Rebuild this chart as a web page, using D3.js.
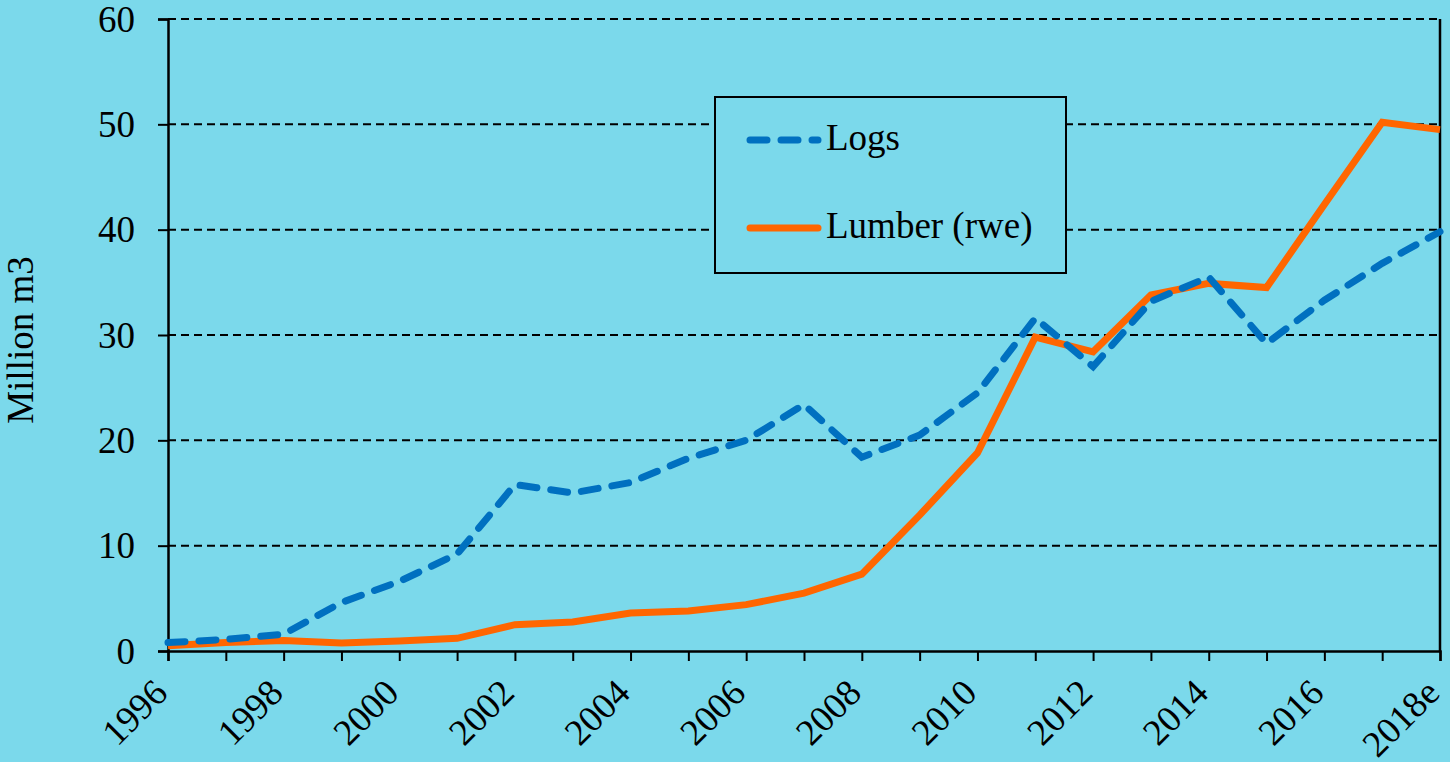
<!DOCTYPE html>
<html><head><meta charset="utf-8">
<script src="https://cdn.jsdelivr.net/npm/d3@7"></script>
<style>html,body{margin:0;padding:0;background:#7BD9EB;}svg{display:block;}</style>
</head><body>
<script>
const years = ["1996","1997","1998","1999","2000","2001","2002","2003","2004","2005","2006","2007","2008","2009","2010","2011","2012","2013","2014","2015","2016","2017","2018e"];
const logs = [0.8,1.1,1.6,4.6,6.6,9.2,15.8,15.0,16.0,18.3,20.0,23.4,18.4,20.5,24.5,31.6,27.0,33.2,35.5,29.2,33.3,36.8,39.8];
const lumber = [0.5,0.8,1.0,0.75,0.95,1.2,2.5,2.75,3.6,3.8,4.4,5.5,7.3,12.9,18.8,29.8,28.4,33.8,34.9,34.5,42.4,50.2,49.5];
const yTicks = [0,10,20,30,40,50,60];
const seriesNames = ["Logs","Lumber (rwe)"];

const W=1450,H=762;
const m={l:168,r:10,t:19,b:111};
const svg=d3.select("body").append("svg").attr("width",W).attr("height",H);
svg.append("rect").attr("width",W).attr("height",H).attr("fill","#7BD9EB");
const x=d3.scalePoint().domain(years).range([m.l,W-m.r]);
const y=d3.scaleLinear().domain([0,60]).range([H-m.b,m.t]);
const font="'Liberation Serif','Times New Roman',serif";
const fs=37;

// gridlines
svg.append("g").selectAll("line").data(yTicks.filter(d=>d>0)).join("line")
  .attr("x1",m.l).attr("x2",W-m.r).attr("y1",d=>y(d)).attr("y2",d=>y(d))
  .attr("stroke","#000").attr("stroke-width",2).attr("stroke-dasharray","8,5");
// right border
svg.append("line").attr("x1",W-m.r).attr("x2",W-m.r).attr("y1",m.t).attr("y2",H-m.b).attr("stroke","#000").attr("stroke-width",2.5);

// y axis
const ya=svg.append("g").attr("transform",`translate(${m.l},0)`)
  .call(d3.axisLeft(y).tickValues(yTicks).tickSize(10).tickPadding(23).tickFormat(d3.format("d")));
ya.select(".domain").attr("stroke","#000").attr("stroke-width",2.5);
ya.selectAll(".tick line").attr("stroke","#000").attr("stroke-width",2);
ya.selectAll("text").attr("font-family",font).attr("font-size",fs).attr("fill","#000").attr("dy","0.33em");

// x axis
const xa=svg.append("g").attr("transform",`translate(0,${H-m.b})`)
  .call(d3.axisBottom(x).tickSize(10).tickFormat((d,i)=> i%2===0?d:""));
xa.select(".domain").attr("stroke","#000").attr("stroke-width",2.5);
xa.selectAll(".tick line").attr("stroke","#000").attr("stroke-width",2);
xa.selectAll("text").attr("font-family",font).attr("font-size",fs).attr("fill","#000")
  .attr("text-anchor","end").attr("dy",0).attr("y",0)
  .attr("transform","translate(1,44) rotate(-45)");

// y title
svg.append("text").attr("transform","translate(33,340) rotate(-90)")
  .attr("text-anchor","middle").attr("font-family",font).attr("font-size",fs).text("Million m3");

const line=d3.line().x((d,i)=>x(years[i])).y(d=>y(d));
svg.append("path").datum(lumber).attr("d",line).attr("fill","none")
  .attr("stroke","#FF6600").attr("stroke-width",7).attr("stroke-linejoin","miter");
svg.append("path").datum(logs).attr("d",line).attr("fill","none")
  .attr("stroke","#0070C0").attr("stroke-width",7).attr("stroke-dasharray","17,14").attr("stroke-linecap","round");

// legend
const lg=svg.append("g");
lg.append("rect").attr("x",715).attr("y",97).attr("width",351).attr("height",176)
  .attr("fill","#7BD9EB").attr("stroke","#000").attr("stroke-width",2);
const items=[{n:seriesNames[0],c:"#0070C0",dash:"17,14",yy:140},{n:seriesNames[1],c:"#FF6600",dash:null,yy:228}];
items.forEach(it=>{
  const l=lg.append("line").attr("x1",750).attr("x2",818).attr("y1",it.yy).attr("y2",it.yy)
    .attr("stroke",it.c).attr("stroke-width",7).attr("stroke-linecap","round");
  if(it.dash) l.attr("stroke-dasharray",it.dash);
  lg.append("text").attr("x",826).attr("y",it.yy+10).attr("font-family",font).attr("font-size",fs).text(it.n);
});
</script>
</body></html>
